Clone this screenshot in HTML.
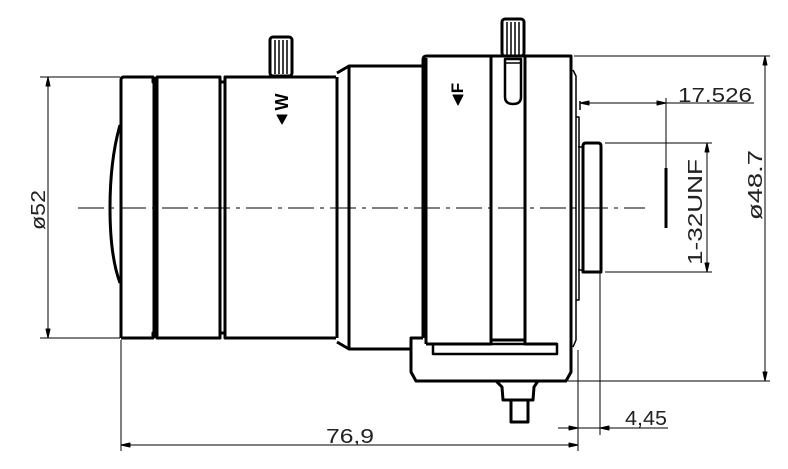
<!DOCTYPE html>
<html><head><meta charset="utf-8"><style>
html,body{margin:0;padding:0;background:#fff;}
svg{display:block;}
text{font-family:"Liberation Sans",sans-serif;fill:#222;stroke:none;font-weight:normal;}
</style></head><body>
<svg width="788" height="469" viewBox="0 0 788 469" xmlns="http://www.w3.org/2000/svg">
<g fill="none" stroke="#000" stroke-linejoin="round">
<line x1="78" y1="208" x2="645" y2="208" stroke-width="1" stroke-dasharray="26,6,4,6"/>
<g stroke-width="3">
<path d="M121,338 L121,80 Q121,77 124,77 L153,77 L153,82 L157,82 L157,77 L220,77 L220,82 L225,82 L225,77 L336,77"/>
<path d="M121,338 L153,338 L153,333 L157,333 L157,338 L220,338 L220,333 L225,333 L225,338 L336,338"/>
<line x1="154" y1="77" x2="154" y2="338"/>
<line x1="157" y1="77" x2="157" y2="338"/>
<line x1="220" y1="77" x2="220" y2="338"/>
<line x1="225" y1="77" x2="225" y2="338"/>
<line x1="337" y1="77" x2="337" y2="338"/>
<path d="M337,73 L349,66 L425,66"/>
<path d="M337,342 L349,349 L411,349"/>
<line x1="349" y1="66" x2="349" y2="349"/>
<path d="M110,208 Q110,160 120,125"/>
<path d="M110,208 Q110,256 120,283"/>
<rect x="270" y="37" width="22" height="39" rx="3"/>
<path d="M423,338 L423,60 Q423,56 427,56 L571,56 L571,372 L566,381 L416,381 L411,372 L411,338 L423,338"/>
<line x1="426" y1="58" x2="426" y2="344"/>
<path d="M426,344 L491,344 L491,56"/>
<path d="M491,340 L525,340"/>
<path d="M525,56 L525,344 L557,344"/>
<rect x="433" y="344" width="124" height="10" stroke-width="2.5"/>
<rect x="502" y="19" width="22" height="37" rx="3"/>
<path d="M505,59 L505,97 Q505,104 513,104 Q521,104 521,97 L521,59 Z" stroke-width="2.5"/>
<path d="M496,381 L502,387 L503,400 L533,400 L534,387 L538,381"/>
<rect x="511" y="400" width="17" height="22"/>
<path d="M583,272 L583,146 Q583,143 586,143 L598,143 Q601,143 601,146 L601,272 Z"/>
<line x1="666" y1="168" x2="666" y2="228" stroke-width="3"/>
</g>
<g stroke-width="1.5">
<line x1="270" y1="76" x2="292" y2="76"/>
<line x1="275" y1="40" x2="275" y2="74"/><line x1="279" y1="40" x2="279" y2="74"/><line x1="283" y1="40" x2="283" y2="74"/><line x1="287" y1="40" x2="287" y2="74"/>
<line x1="507" y1="22" x2="507" y2="56"/><line x1="511" y1="22" x2="511" y2="56"/><line x1="515" y1="22" x2="515" y2="56"/><line x1="519" y1="22" x2="519" y2="56"/>
<line x1="505" y1="63" x2="521" y2="63"/>
<path d="M573,70 L576,76 L576,340 L573,347"/>
<path d="M576,117 L579,117 L579,300 L576,300"/>
<line x1="578" y1="147" x2="583" y2="147"/>
<line x1="578" y1="270" x2="583" y2="270"/>
<line x1="580" y1="101" x2="580" y2="110"/>
</g>
<g stroke-width="1">
<line x1="40" y1="77" x2="120" y2="77"/>
<line x1="40" y1="338" x2="120" y2="338"/>
<line x1="48" y1="77" x2="48" y2="338"/>
<line x1="121" y1="340" x2="121" y2="451"/>
<line x1="121" y1="445" x2="578" y2="445"/>
<line x1="578" y1="350" x2="578" y2="451"/>
<line x1="600" y1="272" x2="600" y2="435"/>
<line x1="558" y1="428" x2="668" y2="428"/>
<line x1="580" y1="103" x2="754" y2="103"/>
<line x1="666" y1="98" x2="666" y2="168"/>
<line x1="605" y1="143" x2="712" y2="143"/>
<line x1="605" y1="272" x2="712" y2="272"/>
<line x1="707" y1="143" x2="707" y2="272"/>
<line x1="574" y1="56" x2="770" y2="56"/>
<line x1="568" y1="381" x2="770" y2="381"/>
<line x1="765" y1="56" x2="765" y2="381"/>
</g>
<g fill="#000">
<polygon points="48,77 46,86 50,86"/><polygon points="48,338 46,329 50,329"/>
<polygon points="121,445 130,443 130,447"/><polygon points="578,445 569,443 569,447"/>
<polygon points="578,428 569,426 569,430"/><polygon points="600,428 609,426 609,430"/>
<polygon points="580,103 589,101 589,105"/><polygon points="666,103 657,101 657,105"/>
<polygon points="707,143 705,152 709,152"/><polygon points="707,272 705,263 709,263"/>
<polygon points="765,56 763,65 767,65"/><polygon points="765,381 763,372 767,372"/>
<polygon points="277,115 287,115 282,124"/>
<polygon points="453,95 463,95 458,105"/>
</g>
<g font-size="20">
<text x="678" y="102" textLength="74" lengthAdjust="spacingAndGlyphs">17.526</text>
<text x="326" y="443" textLength="48" lengthAdjust="spacingAndGlyphs">76,9</text>
<text x="625" y="425" textLength="42" lengthAdjust="spacingAndGlyphs">4,45</text>
<text transform="translate(45,210) rotate(-90)" text-anchor="middle" textLength="40" lengthAdjust="spacingAndGlyphs">ø52</text>
<text transform="translate(702,212) rotate(-90)" text-anchor="middle" textLength="106" lengthAdjust="spacingAndGlyphs">1-32UNF</text>
<text transform="translate(762,185) rotate(-90)" text-anchor="middle" textLength="70" lengthAdjust="spacingAndGlyphs">ø48.7</text>
</g>
<text transform="translate(288,102) rotate(-90)" text-anchor="middle" font-size="18" font-weight="bold" style="fill:#000;font-weight:bold">W</text>
<text transform="translate(463,88) rotate(-90)" text-anchor="middle" font-size="17" style="fill:#000;font-weight:bold">F</text>
</svg>
</body></html>
